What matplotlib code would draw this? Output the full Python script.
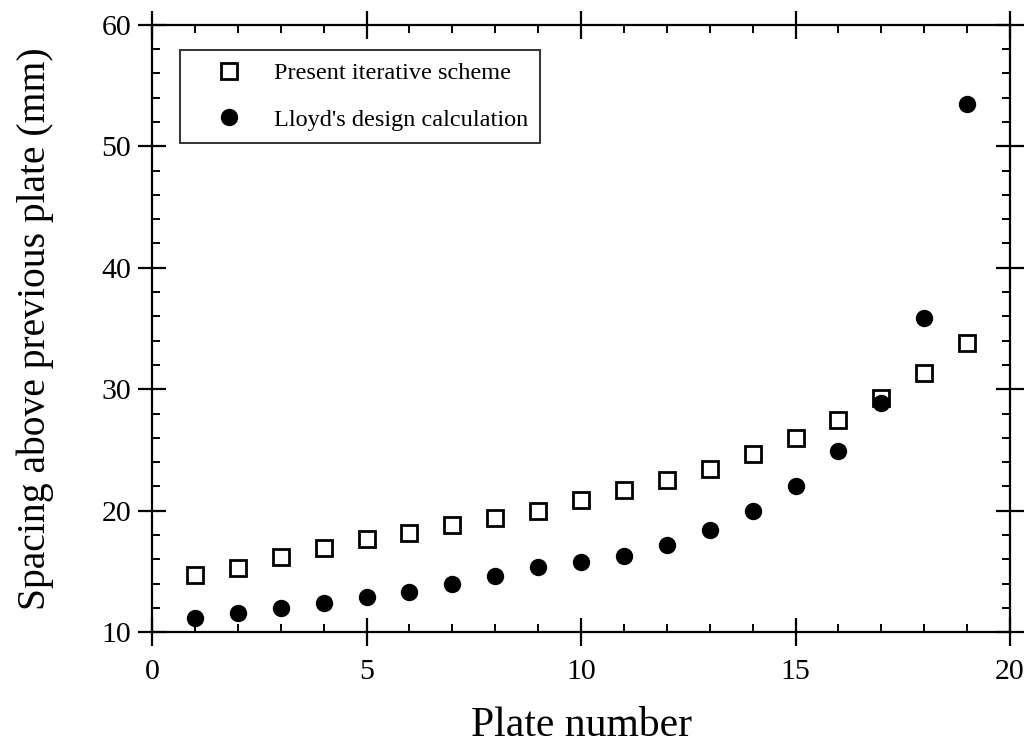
import matplotlib
matplotlib.use("Agg")
import matplotlib.pyplot as plt
from matplotlib.ticker import MultipleLocator

plt.rcParams['font.family'] = ['Liberation Serif', 'DejaVu Serif']

plates = list(range(1, 20))
iterative = [14.7, 15.3, 16.2, 16.9, 17.7, 18.2, 18.8, 19.4, 20.0, 20.9,
             21.7, 22.5, 23.4, 24.7, 26.0, 27.5, 29.3, 31.3, 33.8]
lloyd = [11.2, 11.6, 12.0, 12.4, 12.9, 13.3, 14.0, 14.6, 15.4, 15.8,
         16.3, 17.2, 18.4, 20.0, 22.0, 24.9, 28.9, 35.9, 53.5]

fig = plt.figure(figsize=(10.3, 7.5), dpi=100)
ax = fig.add_axes([0.1476, 0.157, 0.833, 0.81])

ax.plot(plates, iterative, linestyle='none', marker='s', markersize=11,
        markerfacecolor='white', markeredgecolor='black', markeredgewidth=2,
        label='Present iterative scheme')
ax.plot(plates, lloyd, linestyle='none', marker='o', markersize=11.5,
        markerfacecolor='black', markeredgecolor='black',
        label="Lloyd's design calculation")

ax.set_xlim(0, 20)
ax.set_ylim(10, 60)
ax.xaxis.set_major_locator(MultipleLocator(5))
ax.xaxis.set_minor_locator(MultipleLocator(1))
ax.yaxis.set_major_locator(MultipleLocator(10))
ax.yaxis.set_minor_locator(MultipleLocator(2))
ax.tick_params(which='major', direction='inout', length=20, width=1.6,
               top=True, right=True, labelsize=21.5)
ax.tick_params(axis='y', which='major', pad=5)
ax.tick_params(axis='x', which='major', pad=9)
ax.tick_params(which='minor', direction='in', length=6, width=1.4,
               top=True, right=True)
for s in ax.spines.values():
    s.set_linewidth(1.6)

ax.set_xlabel('Plate number', fontsize=30, labelpad=16)
ax.set_ylabel('Spacing above previous plate (mm)', fontsize=28.5, labelpad=34)

leg = ax.legend(loc='upper left', bbox_to_anchor=(0.033, 0.958), fontsize=17.5,
                frameon=True, fancybox=False, edgecolor='black',
                borderpad=0.5, labelspacing=1.0, handletextpad=0.35,
                handlelength=3.0, borderaxespad=0)
leg.get_frame().set_linewidth(1.4)

fig.savefig('out.png', dpi=100, facecolor='white')
